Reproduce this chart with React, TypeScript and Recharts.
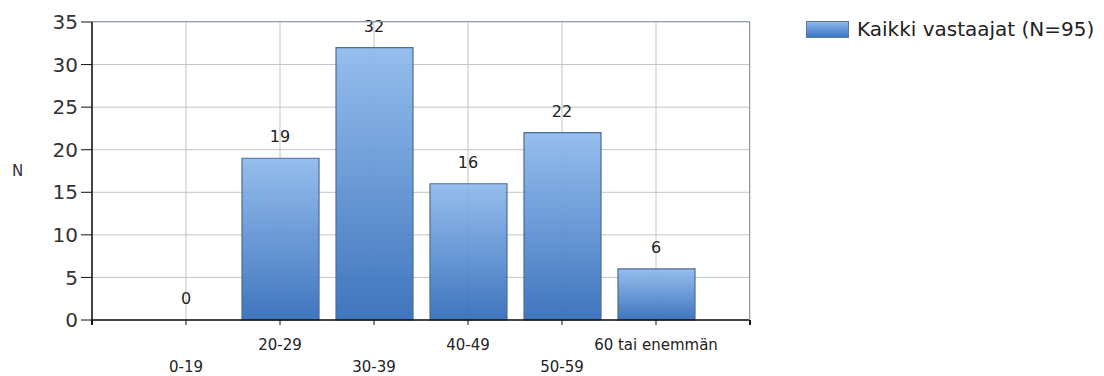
import {
  Bar,
  CartesianGrid,
  ComposedChart,
  LabelList,
  Line,
  XAxis,
  YAxis,
} from "recharts";

const AGE_GROUPS = ["0-19", "20-29", "30-39", "40-49", "50-59", "60 tai enemmän"];
const COUNTS = [0, 19, 32, 16, 22, 6];
const Y_TICKS = [0, 5, 10, 15, 20, 25, 30, 35];
const SERIES_NAME = "Kaikki vastaajat (N=95)";

const data = AGE_GROUPS.map((group, i) => ({ group, value: COUNTS[i] }));

const FONT = "'DejaVu Sans', Verdana, sans-serif";

function StaggeredTick(props: any) {
  const { x, y, payload, index } = props;
  const lower = index % 2 === 0;
  return (
    <text
      x={x}
      y={y + (lower ? 45 : 23)}
      textAnchor="middle"
      fill="#222"
      fontSize={15}
      fontFamily={FONT}
    >
      {payload.value}
    </text>
  );
}

function LegendBox() {
  return (
    <div
      style={{
        position: "absolute",
        left: 806,
        top: 17,
        display: "flex",
        alignItems: "center",
        fontFamily: FONT,
      }}
    >
      <svg width={43} height={17} style={{ marginRight: 8 }}>
        <defs>
          <linearGradient id="legendFill" x1="0" y1="0" x2="0" y2="1">
            <stop offset="0%" stopColor="#8fb9ec" />
            <stop offset="100%" stopColor="#3a73c2" />
          </linearGradient>
        </defs>
        <rect x={0.5} y={0.5} width={42} height={16} fill="url(#legendFill)" stroke="#5a7aa5" />
      </svg>
      <span style={{ fontSize: 20, color: "#222", whiteSpace: "nowrap" }}>{SERIES_NAME}</span>
    </div>
  );
}

export default function App() {
  return (
    <div style={{ position: "absolute", left: 0, top: 0, width: 1104, height: 376, background: "#fff" }}>
      <ComposedChart
        width={1104}
        height={376}
        data={data}
        margin={{ top: 22, right: 354, left: 0, bottom: 0 }}
      >
        <defs>
          <linearGradient id="barFill" x1="0" y1="0" x2="0" y2="1">
            <stop offset="0%" stopColor="#8db8ec" />
            <stop offset="100%" stopColor="#2f6ab9" />
          </linearGradient>
        </defs>
        <CartesianGrid stroke="#c4c4c4" />
        <XAxis
          dataKey="group"
          height={56}
          padding={{ left: 47, right: 47 }}
          tick={<StaggeredTick />}
          tickSize={5}
          interval={0}
          axisLine={{ stroke: "#111", strokeWidth: 1.5 }}
          tickLine={{ stroke: "#111" }}
        />
        <YAxis
          width={92}
          domain={[0, 35]}
          ticks={Y_TICKS}
          interval={0}
          tickSize={11}
          tickMargin={3}
          axisLine={{ stroke: "#111", strokeWidth: 1.5 }}
          tickLine={{ stroke: "#111" }}
          tick={{ fill: "#333", fontSize: 20, fontFamily: FONT }}
          label={{
            value: "N",
            position: "insideLeft",
            offset: 12,
            fill: "#333",
            fontSize: 15,
            fontFamily: FONT,
          }}
        />
        <Bar
          dataKey="value"
          name={SERIES_NAME}
          barSize={77}
          fill="url(#barFill)"
          fillOpacity={0.92}
          stroke="#4d6c96"
          strokeWidth={1.2}
          isAnimationActive={false}
        />
        {/* invisible series that only carries the value labels, so 0 gets one too */}
        <Line
          dataKey="value"
          stroke="none"
          dot={false}
          activeDot={false}
          legendType="none"
          isAnimationActive={false}
        >
          <LabelList
            dataKey="value"
            position="top"
            offset={16}
            fill="#222"
            fontSize={16}
            fontFamily={FONT}
          />
        </Line>
      </ComposedChart>
      {/* plot frame: top and right edges, plus the end tick on the x axis */}
      <div
        style={{
          position: "absolute",
          left: 92,
          top: 21,
          width: 657,
          height: 299,
          borderTop: "1.5px solid #8e9cb2",
          borderRight: "1.5px solid #8e9cb2",
          pointerEvents: "none",
        }}
      />
      <div
        style={{
          position: "absolute",
          left: 749,
          top: 320,
          width: 1.5,
          height: 5,
          background: "#111",
        }}
      />
      <div
        style={{
          position: "absolute",
          left: 91,
          top: 320,
          width: 1.5,
          height: 5,
          background: "#111",
        }}
      />
      <LegendBox />
    </div>
  );
}
